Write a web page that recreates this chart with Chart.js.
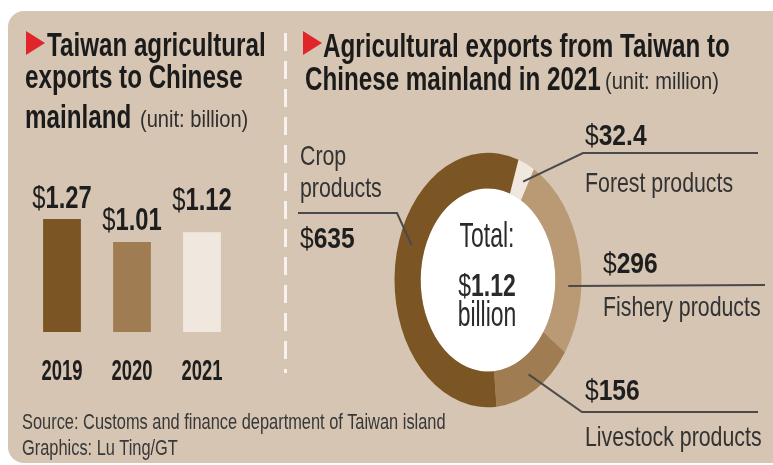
<!DOCTYPE html>
<html>
<head>
<meta charset="utf-8">
<script src="https://cdn.jsdelivr.net/npm/chart.js@4.4.1/dist/chart.umd.min.js"></script>
<style>
    html, body { margin: 0; padding: 0; background: #fff; }
    #page { position: relative; width: 773px; height: 465px; overflow: hidden; background: #fff;
        font-family: "Liberation Sans", Arial, sans-serif; }
    #panel { position: absolute; left: 8px; top: 11px; width: 790px; height: 452px; background: #d5c5b2; border-radius: 16px; }
    #divider { position: absolute; left: 284px; top: 33px; width: 3px; height: 340px;
        background: repeating-linear-gradient(to bottom, #f7f2ec 0 18px, transparent 18px 28px); }
    .tri { position: absolute; width: 19px; height: 24px; background: #e1262b; clip-path: polygon(0 0, 100% 50%, 0 100%); }
    canvas { position: absolute; left: 0; top: 0; }
    .txt { position: absolute; white-space: nowrap; line-height: 1; }
    .title { font-size: 29.5px; font-weight: bold; color: #1b1b1b; }
    .unit { font-size: 24.5px; color: #2e2e2e; }
    .name { font-size: 26px; color: #333; }
    .val { font-size: 30px; color: #1e1e1e; }
    .val b { font-weight: bold; }
    .mid { font-size: 28px; color: #2a2a2a; width: 200px; text-align: center; }
    .src { font-size: 20px; color: #383838; }
</style>
</head>
<body>
<div id="page">
    <div id="panel"></div>
    <div id="divider"></div>
    <div class="tri" style="left:26px; top:31px;"></div>
    <div class="tri" style="left:303px; top:31px;"></div>
    <canvas id="barChart" width="773" height="465"></canvas>
    <canvas id="pieChart" width="773" height="465"></canvas>
</div>
<script>
// left chart: yearly exports (billion)
var years = ['2019', '2020', '2021'];
var exportsBillion = [1.27, 1.01, 1.12];
var barColors = ['#7c5525', '#a07c52', '#f0e8de'];
var labelLift = [11, 12, 22];

// right chart: 2021 breakdown (million)
var sliceNames = ['Forest products', 'Fishery products', 'Livestock products', 'Crop products'];
var sliceValues = [32.4, 296, 156, 635];
var sliceColors = ['#f0e8de', '#b99a74', '#a07c52', '#7c5525'];

var STRETCH = 1.36; // the ring is drawn as a tall ellipse
var NARROW = 0.82;  // condensed look
var FONT = '"Liberation Sans", Arial, sans-serif';

var page = document.getElementById('page');

function addText(html, cls, left, base, s) {
    var el = document.createElement('div');
    el.className = 'txt ' + cls;
    el.innerHTML = html;
    page.appendChild(el);
    var f = parseFloat(getComputedStyle(el).fontSize);
    el.style.left = left + 'px';
    el.style.top = (base - 0.8465 * f * s) + 'px';
    el.style.transformOrigin = cls.indexOf('mid') >= 0 ? '50% 0' : '0 0';
    el.style.transform = 'scale(' + NARROW + ',' + s + ')';
    return el;
}

function money(v) {
    return '$<b>' + v + '</b>';
}

// titles
addText('Taiwan agricultural', 'title', 47, 56, 1.12);
addText('exports to Chinese', 'title', 25, 88, 1.12);
addText('mainland', 'title', 25, 128, 1.12);
addText('(unit: billion)', 'unit', 140, 128, 1.0);
addText('Agricultural exports from Taiwan to', 'title', 323, 57, 1.12);
addText('Chinese mainland in 2021', 'title', 305, 90, 1.12);
addText('(unit: million)', 'unit', 605, 90, 1.0);

// callouts for the ring, same order as slices
var callouts = [
    { frac: 0.66, path: [[583, 153], [758, 153]], valAt: [585, 145], nameAt: [[585, 192]] },
    { frac: 0.67, path: [[765, 285]], valAt: [603, 273], nameAt: [[603, 316]] },
    { frac: 0.5, path: [[582, 412], [758, 412]], valAt: [585, 400], nameAt: [[585, 446]] },
    { frac: 0.557, path: [[397, 213], [298, 213]], valAt: [300, 248], nameAt: [[300, 165], [300, 197]] }
];

callouts.forEach(function (c, i) {
    addText(money(sliceValues[i]), 'val', c.valAt[0], c.valAt[1], 1.0);
    var words = c.nameAt.length > 1 ? sliceNames[i].split(' ') : [sliceNames[i]];
    words.forEach(function (w, k) {
        addText(w, 'name', c.nameAt[k][0], c.nameAt[k][1], 1.07);
    });
});

var total = sliceValues.reduce(function (a, b) { return a + b; }, 0) / 1000;
addText('Total:', 'mid', 387, 248, 1.25);
addText('$<b>' + total.toFixed(2) + '</b>', 'mid val', 387, 297, 1.12);
addText('billion', 'mid', 387, 327, 1.25);

addText('Source: Customs and finance department of Taiwan island', 'src', 22, 429, 1.12);
addText('Graphics: Lu Ting/GT', 'src', 22, 455, 1.12);

// value labels above bars and year labels below
var barLabelsPlugin = {
    id: 'barLabels',
    afterDatasetsDraw: function (chart) {
        var ctx = chart.ctx;
        var bars = chart.getDatasetMeta(0).data;
        ctx.save();
        ctx.fillStyle = '#1e1e1e';
        ctx.textBaseline = 'alphabetic';
        bars.forEach(function (bar, i) {
            var num = exportsBillion[i].toFixed(2);
            ctx.font = '29px ' + FONT;
            var w1 = ctx.measureText('$').width;
            ctx.font = 'bold 29px ' + FONT;
            var w2 = ctx.measureText(num).width;

            ctx.save();
            ctx.translate(bar.x, bar.y - labelLift[i]);
            ctx.scale(NARROW, 1.05);
            ctx.textAlign = 'left';
            ctx.font = '29px ' + FONT;
            ctx.fillText('$', -(w1 + w2) / 2, 0);
            ctx.font = 'bold 29px ' + FONT;
            ctx.fillText(num, -(w1 + w2) / 2 + w1, 0);
            ctx.restore();

            ctx.save();
            ctx.translate(bar.x, chart.chartArea.bottom + 48);
            ctx.scale(NARROW, 1.3);
            ctx.textAlign = 'center';
            ctx.font = 'bold 22.5px ' + FONT;
            ctx.fillText(years[i], 0, 0);
            ctx.restore();
        });
        ctx.restore();
    }
};

new Chart(document.getElementById('barChart').getContext('2d'), {
    type: 'bar',
    data: {
        labels: years,
        datasets: [{
            data: exportsBillion,
            backgroundColor: barColors,
            borderWidth: 0,
            barPercentage: 0.54,
            categoryPercentage: 1.0
        }]
    },
    options: {
        responsive: false,
        animation: false,
        layout: { padding: { left: 27, right: 536, top: 198.5, bottom: 133 } },
        plugins: { legend: { display: false }, tooltip: { enabled: false } },
        scales: {
            x: { display: false },
            y: { display: false, min: 0, max: 1.5 }
        }
    },
    plugins: [barLabelsPlugin]
});

// stretch the ring vertically, fill its hole white, then draw leader lines
var ringPlugin = {
    id: 'ring',
    beforeDatasetsDraw: function (chart) {
        var arc = chart.getDatasetMeta(0).data[0];
        var ctx = chart.ctx;
        ctx.save();
        ctx.translate(arc.x, arc.y);
        ctx.scale(1, STRETCH);
        ctx.translate(-arc.x, -arc.y);
        ctx.beginPath();
        ctx.arc(arc.x, arc.y, arc.innerRadius, 0, Math.PI * 2);
        ctx.fillStyle = '#ffffff';
        ctx.fill();
    },
    afterDatasetsDraw: function (chart) {
        var ctx = chart.ctx;
        ctx.restore();
        var arcs = chart.getDatasetMeta(0).data;
        ctx.save();
        ctx.strokeStyle = '#4a4a4a';
        ctx.lineWidth = 2;
        callouts.forEach(function (c, i) {
            var a = arcs[i];
            var ang = a.startAngle + c.frac * (a.endAngle - a.startAngle);
            var r = (a.innerRadius + a.outerRadius) / 2;
            ctx.beginPath();
            ctx.moveTo(a.x + r * Math.cos(ang), a.y + r * Math.sin(ang) * STRETCH);
            c.path.forEach(function (p) { ctx.lineTo(p[0], p[1]); });
            ctx.stroke();
        });
        ctx.restore();
    }
};

new Chart(document.getElementById('pieChart').getContext('2d'), {
    type: 'doughnut',
    data: {
        labels: sliceNames,
        datasets: [{
            data: sliceValues,
            backgroundColor: sliceColors,
            borderWidth: 0,
            clip: false
        }]
    },
    options: {
        responsive: false,
        animation: false,
        rotation: 19,
        cutout: '72%',
        layout: { padding: { left: 394.5, right: 191.5, top: 186.5, bottom: 91.5 } },
        plugins: { legend: { display: false }, tooltip: { enabled: false } }
    },
    plugins: [ringPlugin]
});
</script>
</body>
</html>
